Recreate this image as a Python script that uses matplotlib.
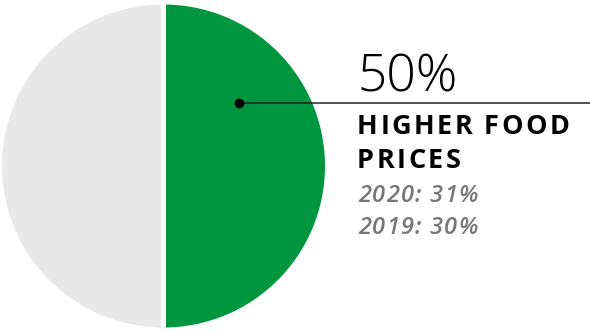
import matplotlib.pyplot as plt
from matplotlib.font_manager import FontProperties, findfont, get_font

shares = [50, 50]
colors = ["#009640", "#e8e8e8"]
headline = "50%"
label_lines = ["HIGHER FOOD", "PRICES"]
history = ["2020: 31%", "2019: 30%"]

W, H = 590, 332
DPI = 100
fig = plt.figure(figsize=(W / DPI, H / DPI), dpi=DPI)
ax = fig.add_axes([0, 0, 1, 1])

cx, cy, r = 163.5, 166, 164
ax.pie(shares, colors=colors, startangle=90, counterclock=False,
       center=(cx, cy), radius=r,
       wedgeprops=dict(edgecolor="white", linewidth=3.6))

ax.set_xlim(0, W)
ax.set_ylim(0, H)
ax.set_aspect("equal")
ax.axis("off")


def spaced_text(x, y, s, track, size, **kw):
    # place glyphs one by one so we can add letter spacing (1 data unit = 1 px)
    fp = FontProperties(family="Open Sans", size=size,
                        weight=kw.get("weight", "normal"),
                        style=kw.get("style", "normal"))
    font = get_font(findfont(fp))
    font.set_size(size, DPI)
    for ch in s:
        ax.text(x, y, ch, fontproperties=fp, va="baseline",
                color=kw.get("color", "black"))
        g = font.load_char(ord(ch))
        x += g.linearHoriAdvance / 65536 + track


# leader line from the green slice out to the right edge
dot = (239, 229)
ax.plot([dot[0], W], [dot[1], dot[1]], color="#222222", lw=1.1, solid_capstyle="butt")
ax.plot(*dot, "o", color="black", ms=6)

tx = 357
ax.text(tx, 240, headline, fontsize=37, family="Open Sans", weight="light",
        color="black", va="baseline")
for yb, s in zip([198, 164], label_lines):
    spaced_text(tx, yb, s, 2.4, 19.5, weight="bold")
for yb, s in zip([130.5, 98], history):
    spaced_text(tx + 1, yb, s, 1.2, 17, style="italic", weight="semibold",
                color="#777777")

fig.savefig("out.png", dpi=DPI)
